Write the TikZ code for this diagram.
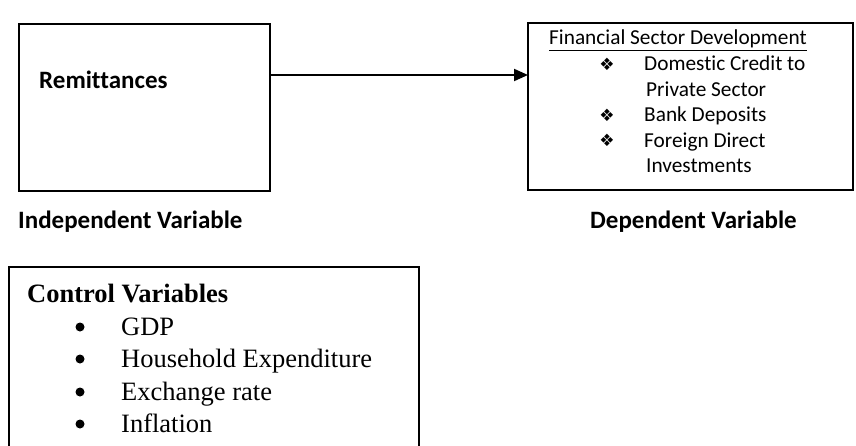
\documentclass[tikz,border=0pt]{standalone}
\usepackage{fontspec}
\setmainfont{Carlito}[Ligatures={NoCommon,NoContextual}]
\newfontfamily\timesf{Liberation Serif}
\newfontfamily\dejavu{DejaVu Sans}
\usetikzlibrary{arrows.meta}
\tikzset{
  box/.style={draw=black, line width=1.4pt},
  cal/.style={inner sep=0pt, anchor=base west, font=\fontsize{21.3}{25.6}\selectfont},
  calb/.style={inner sep=0pt, anchor=base west, font=\fontsize{25}{30}\selectfont\bfseries},
  tnr/.style={inner sep=0pt, anchor=base west, font=\timesf\fontsize{26.5}{31}\selectfont},
  tnrb/.style={inner sep=0pt, anchor=base west, font=\timesf\fontsize{26.5}{31}\selectfont\bfseries},
  dia/.style={inner sep=0pt, anchor=center, font=\dejavu\fontsize{17}{20}\selectfont},
  arr/.style={line width=2pt, -{Triangle[length=14pt,width=12pt]}}
}
\begin{document}
\begin{tikzpicture}[x=1pt,y=-1pt]
\useasboundingbox (0,0) rectangle (856,446);
% boxes
\draw[box] (19,24) rectangle (270,191);
\draw[box] (528,23) rectangle (853,190);
\draw[box] (9,460) -- (9,267) -- (419,267) -- (419,460);
\coordinate (remE) at (270,75);
\coordinate (depW) at (528,75);
\draw[arr] (remE) -- (depW);
% left box text
\node[calb] (remt) at (39,89) {Remittances};
\node[calb] (indep) at (18,229) {Independent Variable};
\node[calb] (dep) at (590,229) {Dependent Variable};
% right box text
\node[cal] (fsd) at (549,45) {\underline{Financial Sector Development}};
\node[dia] (b1) at (607,64) {❖};
\node[cal] (t1) at (644,70.6) {Domestic Credit to};
\node[cal] (t1b) at (646,96.2) {Private Sector};
\node[dia] (b2) at (607,115.2) {❖};
\node[cal] (t2) at (644,121.8) {Bank Deposits};
\node[dia] (b3) at (607,140.8) {❖};
\node[cal] (t3) at (644,147.4) {Foreign Direct};
\node[cal] (t3b) at (646,173) {Investments};
% control variables
\node[tnrb] (cv) at (27,302) {Control Variables};
\foreach \yy/\txt/\nm in {327/GDP/c1, 359/Household Expenditure/c2, 392/Exchange rate/c3, 424/Inflation/c4}{
  \fill (80,\yy) circle (4.5pt);
  \node[tnr] (\nm) at (121,\yy+8.5) {\txt};
}
\end{tikzpicture}
\end{document}
